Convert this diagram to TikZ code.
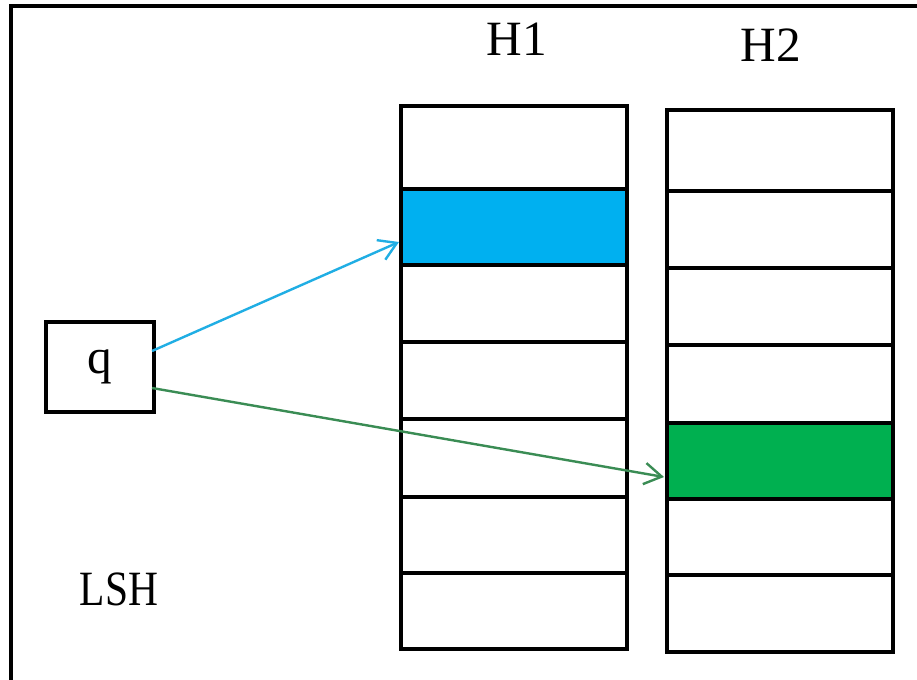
\documentclass[tikz,border=0pt]{standalone}
\usepackage{fontspec}
\setmainfont{Liberation Serif}
\usetikzlibrary{arrows.meta}
\definecolor{cellblue}{RGB}{0,176,240}
\definecolor{cellgreen}{RGB}{0,176,80}
\definecolor{arrblue}{RGB}{32,174,228}
\definecolor{arrgreen}{RGB}{58,140,84}
\tikzset{
  cell/.style={draw=black, line width=2.5pt, minimum width=169.5pt, inner sep=0pt, outer sep=0pt},
  lbl/.style={font=\fontsize{37}{44}\selectfont, inner sep=0pt},
  qbox/.style={draw=black, line width=2.5pt, minimum width=81pt, minimum height=67.5pt, inner sep=0pt, font=\fontsize{37}{44}\selectfont},
  arr/.style={line width=1.8pt, -{Straight Barb[length=13pt,width=16pt,line width=1.8pt]}}
}
\begin{document}
\begin{tikzpicture}[x=0.75pt,y=-0.75pt]
\useasboundingbox (0,0) rectangle (917,680);
\clip (0,0) rectangle (917,680);
\fill[white] (0,0) rectangle (917,680);
% outer frame (only top and left visible)
\draw[line width=3pt] (930,6) -- (11,6) -- (11,700);
% H1 column
\node[cell, minimum height=62.25pt] (a1) at (514,147.5) {};
\node[cell, minimum height=57pt, fill=cellblue] (a2) at (514,227) {};
\node[cell, minimum height=57.75pt] (a3) at (514,303.5) {};
\node[cell, minimum height=57.75pt] (a4) at (514,380.5) {};
\node[cell, minimum height=58.5pt] (a5) at (514,458) {};
\node[cell, minimum height=57pt] (a6) at (514,535) {};
\node[cell, minimum height=57pt] (a7) at (514,611) {};
% H2 column
\node[cell, minimum height=60.75pt] (b1) at (780,150.5) {};
\node[cell, minimum height=57.75pt] (b2) at (780,229.5) {};
\node[cell, minimum height=57.75pt] (b3) at (780,306.5) {};
\node[cell, minimum height=58.5pt] (b4) at (780,384) {};
\node[cell, minimum height=57pt, fill=cellgreen] (b5) at (780,461) {};
\node[cell, minimum height=57pt] (b6) at (780,537) {};
\node[cell, minimum height=57.75pt] (b7) at (780,613.5) {};
% labels
\node[lbl] (h1) at (517,39.5) {H1};
\node[lbl] (h2) at (771,45.5) {H2};
\node[lbl] (lsh) at (119,589.5) {\scalebox{0.84}[1]{LSH}};
% query box
\node[qbox] (q) at (100,367) {q};
% arrow endpoints
\coordinate (qb) at (152,351);
\coordinate (qg) at (152,388);
\coordinate (tb) at (399,242);
\coordinate (tg) at (664,477);
\draw[arr, arrblue] (qb) -- (tb);
\draw[arr, arrgreen] (qg) -- (tg);
\end{tikzpicture}
\end{document}
